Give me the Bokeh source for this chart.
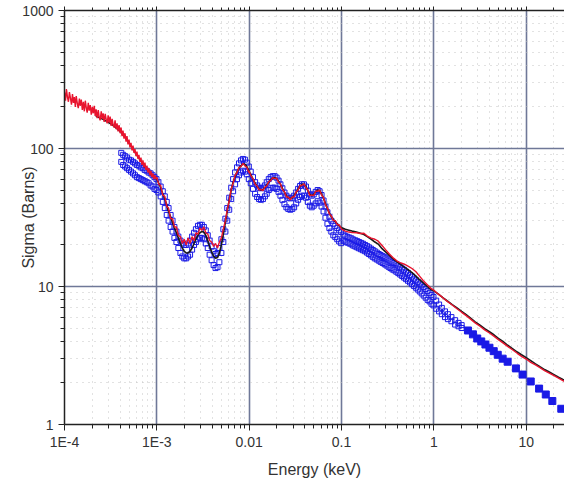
from bokeh.plotting import figure
from bokeh.models import LogAxis, FixedTicker, Range1d
from bokeh.embed import file_html
from bokeh.resources import INLINE

# ---------------- data ----------------
# red curve, first decade (energies in units of 1e-4 keV)
red_E_low_x1e4 = [1.000, 1.025, 1.05, 1.076, 1.103, 1.13, 1.16, 1.19, 1.22, 1.25,
                  1.28, 1.31, 1.34, 1.38, 1.41, 1.45, 1.48, 1.52, 1.56, 1.60,
                  1.64, 1.68, 1.72, 1.76, 1.81, 1.85, 1.90, 1.95, 2.00, 2.05,
                  2.10, 2.15, 2.20, 2.26, 2.32, 2.37, 2.43, 2.50, 2.56, 2.62,
                  2.69, 2.76, 2.83, 2.90, 2.97, 3.04, 3.12, 3.20, 3.28, 3.36,
                  3.44, 3.53, 3.62, 3.71, 3.80, 3.90, 4.00, 4.10, 4.20, 4.30,
                  4.41, 4.52, 4.64, 4.75, 4.87, 5.00, 5.12, 5.25, 5.38, 5.52,
                  5.66, 5.80, 5.94, 6.09, 6.25, 6.40, 6.56, 6.73, 6.90, 7.07,
                  7.25, 7.43, 7.62, 7.81, 8.00, 8.20, 8.41, 8.62, 8.84, 9.06,
                  9.29, 9.52, 9.76]
red_S_low = [255, 222, 270, 236, 218, 256, 232, 208, 248, 214,
             236, 200, 240, 210, 196, 230, 204, 226, 190, 218,
             186, 222, 198, 182, 214, 188, 206, 176, 200, 180,
             204, 172, 192, 166, 190, 170, 160, 186, 164, 180,
             156, 178, 162, 152, 174, 154, 170, 146, 164, 148,
             142, 160, 138, 152, 133, 148, 129, 142, 123, 135,
             118, 129, 112, 123, 107, 116, 102, 110, 97, 105,
             93, 99, 88, 95, 84, 90, 80, 86, 76, 82,
             73, 79, 70, 75, 67, 72, 64, 69, 62, 66,
             60, 64, 60]

red_E_high = [1.00e-3, 1.05e-3, 1.10e-3, 1.16e-3, 1.22e-3, 1.28e-3, 1.34e-3, 1.41e-3, 1.48e-3, 1.55e-3,
              1.63e-3, 1.71e-3, 1.80e-3, 1.89e-3, 1.98e-3, 2.08e-3, 2.18e-3, 2.29e-3, 2.41e-3, 2.53e-3,
              2.65e-3, 2.79e-3, 2.93e-3, 3.07e-3, 3.23e-3, 3.39e-3, 3.56e-3, 3.73e-3, 3.92e-3, 4.12e-3,
              4.32e-3, 4.54e-3, 4.76e-3, 5.00e-3, 5.25e-3, 5.52e-3, 5.79e-3, 6.08e-3, 6.39e-3, 6.70e-3,
              7.04e-3, 7.39e-3, 7.76e-3, 8.15e-3, 8.56e-3, 8.99e-3, 9.43e-3, 9.91e-3,
              0.0100, 0.0105, 0.0110, 0.0116, 0.0122, 0.0128, 0.0134, 0.0141, 0.0148, 0.0155,
              0.0163, 0.0171, 0.0180, 0.0189, 0.0198, 0.0208, 0.0218, 0.0229, 0.0241, 0.0253,
              0.0265, 0.0279, 0.0293, 0.0307, 0.0323, 0.0339, 0.0356, 0.0373, 0.0392, 0.0412,
              0.0432, 0.0454, 0.0476, 0.0500, 0.0525, 0.0552, 0.0579, 0.0608, 0.0639, 0.0670,
              0.0704, 0.0739, 0.0776, 0.0815, 0.0856, 0.0899, 0.0943, 0.0991,
              0.10, 0.11, 0.12, 0.13, 0.145, 0.16, 0.175, 0.19, 0.21, 0.23, 0.25, 0.275, 0.30,
              0.33, 0.36, 0.40, 0.44, 0.48, 0.53, 0.58, 0.64, 0.70, 0.77, 0.85, 0.93,
              1.0, 1.12, 1.25, 1.4, 1.58, 1.78, 2.0, 2.24, 2.5, 2.8, 3.16, 3.55, 4.0, 4.5, 5.0,
              5.6, 6.3, 7.1, 8.0, 8.9, 10, 11.2, 12.6, 14.1, 15.8, 17.8, 20, 22.4, 25, 26.5]
red_S_high = [62, 55, 54, 46, 45, 38, 37, 31, 31, 27,
              27, 23.5, 23, 20.5, 22, 20, 22.5, 20.5, 23, 21.5,
              24.5, 24, 26.5, 25.5, 27, 24.5, 24, 21.5, 21, 19.5,
              20.5, 19, 21, 22.5, 26, 30, 36, 42, 51, 56,
              64, 67, 73, 74, 78, 75, 73, 67,
              68.5, 63, 60.5, 55, 53.5, 50, 50.5, 49.5, 52.5, 53.5,
              57.5, 58.5, 61.5, 60.5, 61, 57, 55.5, 50.5, 48.5, 44.5,
              44.5, 42.5, 44.5, 44.5, 48.5, 50, 54, 54, 55.5, 52,
              50, 45.5, 46, 45.5, 49, 49, 50, 46, 44, 39,
              37, 33.5, 32.5, 30, 30, 28, 28, 26.5,
              26, 25.2, 24.8, 24.6, 24.5, 24.2, 24.3, 23.2, 22.4, 22.0, 21.3, 19.8, 18.5,
              17.2, 16.2, 15.3, 14.8, 14.5, 14.0, 13.5, 12.8, 11.9, 11.0, 10.3, 9.7,
              9.4, 8.8, 8.3, 7.8, 7.35, 6.9, 6.5, 6.15, 5.8, 5.45, 5.15, 4.85, 4.6, 4.35, 4.12,
              3.9, 3.68, 3.48, 3.28, 3.12, 2.98, 2.82, 2.7, 2.58, 2.46, 2.36, 2.26, 2.17, 2.08, 2.04]

black_E = [2.18e-4, 2.65e-4, 3.23e-4, 3.92e-4, 4.32e-4, 4.76e-4, 5.25e-4, 5.79e-4, 6.39e-4, 7.04e-4,
           7.76e-4, 8.56e-4, 9.43e-4,
           1.00e-3, 1.05e-3, 1.10e-3, 1.16e-3, 1.22e-3, 1.28e-3, 1.34e-3, 1.41e-3, 1.48e-3, 1.55e-3,
           1.63e-3, 1.71e-3, 1.80e-3, 1.89e-3, 1.98e-3, 2.08e-3, 2.18e-3, 2.29e-3, 2.41e-3, 2.53e-3,
           2.65e-3, 2.79e-3, 2.93e-3, 3.07e-3, 3.23e-3, 3.39e-3, 3.56e-3, 3.73e-3, 3.92e-3, 4.12e-3,
           4.32e-3, 4.54e-3, 4.76e-3, 5.00e-3, 5.25e-3, 5.52e-3, 5.79e-3, 6.08e-3, 6.39e-3, 6.70e-3,
           7.04e-3, 7.39e-3, 7.76e-3, 8.15e-3, 8.56e-3, 8.99e-3, 9.43e-3, 9.91e-3,
           0.0105, 0.0110, 0.0116, 0.0122, 0.0128, 0.0134, 0.0141, 0.0148, 0.0155,
           0.0163, 0.0171, 0.0180, 0.0189, 0.0198, 0.0208, 0.0218, 0.0229, 0.0241, 0.0253,
           0.0265, 0.0279, 0.0293, 0.0307, 0.0323, 0.0339, 0.0356, 0.0373, 0.0392, 0.0412,
           0.0432, 0.0454, 0.0476, 0.0500, 0.0525, 0.0552, 0.0579, 0.0608, 0.0639, 0.0670,
           0.0704, 0.0739, 0.0776, 0.0815, 0.0856, 0.0899, 0.0943, 0.0991,
           0.11, 0.12, 0.13, 0.145, 0.16, 0.175, 0.19, 0.21, 0.23, 0.25, 0.275, 0.30,
           0.33, 0.36, 0.40, 0.44, 0.48, 0.53, 0.58, 0.64, 0.70, 0.77, 0.85, 0.93,
           1.0, 1.12, 1.25, 1.4, 1.58, 1.78, 2.0, 2.24, 2.5, 2.8, 3.16, 3.55, 4.0, 4.5, 5.0,
           5.6, 6.3, 7.1, 8.0, 8.9, 10, 11.2, 12.6, 14.1, 15.8, 17.8, 20, 22.4, 25, 26.5]
black_S = [172, 162, 150, 135, 125, 115, 104, 94, 85, 78,
           71, 66, 62,
           60, 56, 52, 47, 43, 39, 35, 32, 29, 26.5,
           24.5, 22.5, 20.5, 19, 18, 17.5, 17.5, 18, 19, 20.5,
           22, 23.5, 24.5, 25, 24.8, 23.5, 21.5, 19.5, 17.8, 16.6,
           16, 16.2, 17.5, 20, 24, 29, 35, 42, 50, 57,
           63, 68, 72, 75, 77, 77, 74, 69,
           64, 60, 56, 53, 51, 50, 50.5, 52, 54.5,
           57, 59.5, 61, 61.5, 60.5, 58, 55, 51.5, 48, 45.5,
           44, 43.5, 44, 45.5, 48, 51, 53.5, 55, 55, 53,
           49.5, 46.5, 45.5, 46.5, 48.5, 50, 49.5, 47, 43.5, 40,
           36.5, 34, 32, 30.5, 29.5, 28.5, 27.5, 26.8,
           26, 25.6, 25.2, 24.8, 24.3, 23.8, 23, 22, 21, 20.3, 18.8, 17.8,
           16.8, 15.9, 15.1, 14.4, 13.8, 13.2, 12.6, 11.9, 11.2, 10.6, 10, 9.5,
           9.3, 8.8, 8.3, 7.85, 7.4, 7.0, 6.6, 6.25, 5.9, 5.55, 5.25, 4.95, 4.7, 4.45, 4.2,
           4.0, 3.75, 3.55, 3.35, 3.2, 3.05, 2.9, 2.75, 2.62, 2.5, 2.4, 2.3, 2.2, 2.12, 2.08]

blue_E = [4.12e-4, 4.32e-4, 4.54e-4, 4.76e-4, 5.00e-4, 5.25e-4, 5.52e-4, 5.79e-4, 6.08e-4, 6.39e-4,
          6.70e-4, 7.04e-4, 7.39e-4, 7.76e-4, 8.15e-4, 8.56e-4, 8.99e-4, 9.43e-4, 9.91e-4,
          1.04e-3, 1.10e-3, 1.16e-3, 1.22e-3, 1.28e-3, 1.34e-3, 1.41e-3, 1.48e-3, 1.55e-3,
          1.63e-3, 1.71e-3, 1.80e-3, 1.89e-3, 1.98e-3, 2.08e-3, 2.18e-3, 2.29e-3, 2.41e-3, 2.53e-3,
          2.65e-3, 2.79e-3, 2.93e-3, 3.07e-3, 3.23e-3, 3.39e-3, 3.56e-3, 3.73e-3, 3.92e-3, 4.12e-3,
          4.32e-3, 4.54e-3, 4.76e-3, 5.00e-3, 5.25e-3, 5.52e-3, 5.79e-3, 6.08e-3, 6.39e-3, 6.70e-3,
          7.04e-3, 7.39e-3, 7.76e-3, 8.15e-3, 8.56e-3, 8.99e-3, 9.43e-3, 9.91e-3,
          0.0104, 0.0110, 0.0116, 0.0122, 0.0128, 0.0134, 0.0141, 0.0148, 0.0155,
          0.0163, 0.0171, 0.0180, 0.0189, 0.0198, 0.0208, 0.0218, 0.0229, 0.0241, 0.0253,
          0.0265, 0.0279, 0.0293, 0.0307, 0.0323, 0.0339, 0.0356, 0.0373, 0.0392, 0.0412,
          0.0432, 0.0454, 0.0476, 0.0500, 0.0525, 0.0552, 0.0579, 0.0608, 0.0639, 0.0670,
          0.0704, 0.0739, 0.0776, 0.0815, 0.0856, 0.0899, 0.0943, 0.0991,
          0.105, 0.110, 0.116, 0.122, 0.128, 0.134, 0.141, 0.148, 0.155, 0.163, 0.171, 0.180,
          0.189, 0.198, 0.208, 0.218, 0.229, 0.241, 0.253, 0.265, 0.279, 0.293, 0.307, 0.323,
          0.339, 0.356, 0.373, 0.392, 0.412, 0.432, 0.454, 0.476, 0.500, 0.525, 0.552, 0.579,
          0.608, 0.639, 0.670, 0.704, 0.739, 0.776, 0.815, 0.856, 0.899, 0.943, 0.991,
          1.06, 1.14, 1.22, 1.32, 1.42, 1.55, 1.70, 1.85, 2.0]
blue_hi = [93, 90, 88, 86, 83, 82, 80, 78, 76, 75,
           73, 72, 70, 69, 67, 66, 64, 62, 60,
           57, 53, 49, 45, 41, 37, 33, 30, 27,
           25, 23, 21.5, 20.5, 20, 20, 20.5, 21.5, 23, 24.5,
           26, 27.5, 28, 28, 27, 25.5, 23.5, 21.5, 19.5, 18,
           17.2, 17.5, 19, 22, 26, 31, 37, 44, 52, 60,
           67, 73, 78, 82, 84, 83, 79, 74,
           68, 62, 57, 54, 52, 51.5, 52, 54, 57,
           60, 62, 63, 63, 61.5, 58.5, 55, 51.5, 48, 45.5,
           44, 43.5, 44, 45.5, 48, 51, 53.5, 55, 55, 53,
           49.5, 46.5, 45.5, 46.5, 48.5, 50, 49, 46, 42, 38,
           34.5, 32, 30, 28.5, 27.5, 26.5, 25.5, 24.8,
           23.8, 23.3, 22.9, 22.6, 22.3, 21.9, 21.6, 21.3, 21, 20.7, 20.4, 20,
           19.6, 19.2, 18.8, 18.4, 18, 17.6, 17.2, 16.9, 16.6, 16.3, 16, 15.7,
           15.4, 15.1, 14.8, 14.5, 14.2, 13.8, 13.5, 13.2, 12.8, 12.5, 12.1, 11.8,
           11.4, 11.1, 10.8, 10.5, 10.2, 9.9, 9.6, 9.3, 9.0, 8.7, 8.4,
           7.9, 7.4, 7.0, 6.6, 6.3, 6.0, 5.7, 5.45, 5.25]
blue_lo = [80, 76, 74, 72, 70, 68, 66, 64, 62, 61,
           60, 59, 58, 57, 56, 54, 53, 51, 50,
           48, 45, 41, 37, 33, 30, 27, 25, 22.5,
           21, 19, 17.5, 16.5, 16, 16, 16.5, 17, 18.5, 20,
           21, 22, 22.5, 22.5, 22, 20.5, 19, 17, 15.5, 14.3,
           13.6, 13.8, 15, 17.5, 21, 25, 30, 36, 43, 49,
           55, 60, 64, 67, 69, 68, 65, 60,
           56, 51, 47, 44.5, 43, 42.5, 43, 45, 47,
           50, 51.5, 52, 52, 51, 48.5, 45.5, 42.5, 39.5, 37.5,
           36.5, 36, 36.5, 37.5, 40, 42.5, 44.5, 45.5, 45.5, 44,
           41, 38.5, 37.5, 38.5, 40, 41.5, 40.5, 38, 35, 31.5,
           28.5, 26.5, 25, 23.5, 22.8, 22, 21.2, 20.6,
           21.5, 21.1, 20.8, 20.5, 20.2, 19.8, 19.5, 19.2, 18.9, 18.6, 18.3, 18,
           17.6, 17.2, 16.8, 16.4, 16, 15.7, 15.4, 15.1, 14.8, 14.5, 14.2, 13.9,
           13.6, 13.3, 13.1, 12.8, 12.5, 12.2, 11.9, 11.6, 11.3, 11, 10.7, 10.4,
           10.1, 9.8, 9.5, 9.2, 8.9, 8.6, 8.3, 8.0, 7.8, 7.5, 7.3,
           6.9, 6.6, 6.3, 6.0, 5.8, 5.6, 5.3, 5.15, 5.0]

blue_fill_E = [2.34, 2.65, 2.95, 3.26, 3.62, 4.0, 4.45, 4.92, 5.56, 6.3, 7.74, 9.14,
               11.2, 13.8, 16.3, 19.2, 24.0]
blue_fill_S = [4.8, 4.5, 4.2, 4.0, 3.8, 3.6, 3.4, 3.2, 3.0, 2.85, 2.55, 2.3,
               2.05, 1.82, 1.65, 1.48, 1.3]

x_ticks = [1e-4, 1e-3, 1e-2, 1e-1, 1, 10]
x_tick_labels = ["1E-4", "1E-3", "0.01", "0.1", "1", "10"]
y_ticks = [1, 10, 100, 1000]
y_tick_labels = ["1", "10", "100", "1000"]
x_minor = [m * d for d in [1e-4, 1e-3, 1e-2, 1e-1, 1, 10] for m in range(2, 10)]
y_minor = [m * d for d in [1, 10, 100] for m in range(2, 10)]

red_E = [e * 1e-4 for e in red_E_low_x1e4] + red_E_high
red_S = red_S_low + red_S_high

FONT = "Liberation Sans"
MAJOR_GRID = "#6f7898"
AXIS_COL = "#222222"
TEXT_COL = "#333333"

p = figure(width=564, height=481, x_axis_type="log", y_axis_type="log",
           x_range=Range1d(1e-4, 26), y_range=Range1d(1, 1000),
           output_backend="svg", toolbar_location=None,
           min_border_left=64, min_border_right=0, min_border_top=10, min_border_bottom=57,
           background_fill_color="white", border_fill_color="white")
p.outline_line_color = None

# axes styling
for ax, ticks, labels, minor in [(p.xaxis[0], x_ticks, x_tick_labels, x_minor),
                                 (p.yaxis[0], y_ticks, y_tick_labels, y_minor)]:
    ax.ticker = FixedTicker(ticks=ticks, minor_ticks=minor)
    ax.major_label_overrides = {t: l for t, l in zip(ticks, labels)}
    ax.axis_line_color = AXIS_COL
    ax.axis_line_width = 1.5
    ax.major_tick_line_color = AXIS_COL
    ax.minor_tick_line_color = AXIS_COL
    ax.major_tick_in = 0
    ax.major_tick_out = 6
    ax.minor_tick_in = 0
    ax.minor_tick_out = 4
    ax.major_label_text_font = FONT
    ax.major_label_text_font_size = "14px"
    ax.major_label_text_color = TEXT_COL
    ax.axis_label_text_font = FONT
    ax.axis_label_text_font_size = "16px"
    ax.axis_label_text_font_style = "normal"
    ax.axis_label_text_color = TEXT_COL

p.xaxis.axis_label = "Energy (keV)"
p.yaxis.axis_label = "Sigma (Barns)"
p.xaxis.major_label_standoff = 3
p.xaxis.axis_label_standoff = 8
p.yaxis.major_label_standoff = 5
p.yaxis.axis_label_standoff = -18

top = LogAxis(ticker=FixedTicker(ticks=x_ticks, minor_ticks=x_minor),
              major_label_overrides={t: "" for t in x_ticks},
              major_label_text_font_size="2px", major_label_standoff=0,
              axis_line_color=AXIS_COL, axis_line_width=1.5,
              major_tick_line_color=AXIS_COL, minor_tick_line_color=AXIS_COL,
              major_tick_in=0, major_tick_out=4, minor_tick_in=0, minor_tick_out=3)
p.add_layout(top, "above")

# grids
for g in [p.xgrid[0], p.ygrid[0]]:
    g.grid_line_color = MAJOR_GRID
    g.grid_line_width = 1.6
    g.minor_grid_line_color = "#c4c4c4"
    g.minor_grid_line_width = 1
    g.minor_grid_line_dash = "1 5"
p.xgrid[0].ticker = FixedTicker(ticks=x_ticks, minor_ticks=x_minor)
p.ygrid[0].ticker = FixedTicker(ticks=y_ticks, minor_ticks=y_minor)

# series
p.scatter(blue_E, blue_hi, marker="square", size=5, fill_color=None,
          line_color="#1a1ae6", line_width=1)
p.scatter(blue_E, blue_lo, marker="square", size=5, fill_color=None,
          line_color="#1a1ae6", line_width=1)
p.scatter(blue_fill_E, blue_fill_S, marker="square", size=7, fill_color="#1a1ae6",
          line_color="#1a1ae6")
p.line(black_E, black_S, line_color="#1a1a1a", line_width=1.6)
p.line(red_E, red_S, line_color="#e8142e", line_width=1.4)

open("out.html", "w").write(file_html(p, INLINE))
